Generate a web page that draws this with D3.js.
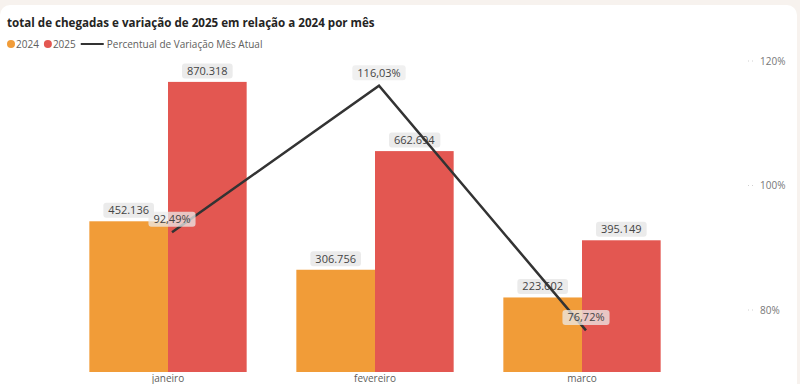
<!DOCTYPE html>
<html>
<head>
<meta charset="utf-8">
<script src="https://cdn.jsdelivr.net/npm/d3@7"></script>
<style>
  body { margin: 0; background: #f7f2ee; }
  svg { display: block; }
  text { font-family: "Segoe UI", "Open Sans", sans-serif; }
</style>
</head>
<body>
<svg></svg>
<script>
let width = 800, height = 384;

// data
let months = ["janeiro", "fevereiro", "marco"];
let years = ["2024", "2025"];
let arrivals2024 = [452136, 306756, 223602];
let arrivals2025 = [870318, 662694, 395149];
let variation = [0.9249, 1.1603, 0.7672];
let pctTicks = [0.8, 1.0, 1.2];

let colors = { "2024": "#f19c38", "2025": "#e35751" };

let ptBR = d3.formatLocale({ decimal: ",", thousands: ".", grouping: [3], currency: ["R$", ""] });
let fmtNum = ptBR.format(",d");
let fmtPct = ptBR.format(".2%");
let fmtTick = ptBR.format(".0%");

let svg = d3.select("svg")
    .attr("width", width)
    .attr("height", height);

// card
svg.append("rect")
    .attr("x", 0).attr("y", 5)
    .attr("width", 797).attr("height", 400)
    .attr("rx", 10)
    .attr("fill", "#ffffff");

// scales
let x0 = d3.scaleBand()
    .domain(months)
    .range([64.5, 685.5])
    .paddingInner(0.24)
    .paddingOuter(0.12);

let x1 = d3.scaleBand()
    .domain(years)
    .range([0, x0.bandwidth()]);

let y = d3.scaleLinear()
    .domain([0, 900000])
    .range([372, 72]);

let yPct = d3.scaleLinear()
    .domain([0.8, 1.2])
    .range([310, 61]);

let rows = months.map((m, i) => ({
    month: m,
    values: [
        { year: "2024", value: arrivals2024[i] },
        { year: "2025", value: arrivals2025[i] }
    ],
    pct: variation[i]
}));

// right axis
let axisR = svg.append("g");
axisR.selectAll("line")
    .data(pctTicks)
    .enter()
    .append("line")
    .attr("x1", 748).attr("x2", 755)
    .attr("y1", d => yPct(d)).attr("y2", d => yPct(d))
    .attr("stroke", "#d0d0d0")
    .attr("stroke-dasharray", "1,3");
axisR.selectAll("text")
    .data(pctTicks)
    .enter()
    .append("text")
    .attr("x", 760)
    .attr("y", d => yPct(d))
    .attr("dy", "0.35em")
    .attr("font-size", "10px")
    .attr("fill", "#777")
    .text(d => fmtTick(d));

// bars
let groups = svg.append("g")
    .selectAll("g")
    .data(rows)
    .enter()
    .append("g")
    .attr("transform", d => "translate(" + x0(d.month) + ",0)");

groups.selectAll("rect")
    .data(d => d.values)
    .enter()
    .append("rect")
    .attr("x", d => x1(d.year))
    .attr("y", d => y(d.value))
    .attr("width", x1.bandwidth())
    .attr("height", d => y(0) - y(d.value))
    .attr("fill", d => colors[d.year]);

// category labels
svg.append("g")
    .selectAll("text")
    .data(months)
    .enter()
    .append("text")
    .attr("x", d => x0(d) + x0.bandwidth() / 2)
    .attr("y", 382)
    .attr("text-anchor", "middle")
    .attr("font-size", "10px")
    .attr("fill", "#605e5c")
    .text(d => d);

// label helper
function boxLabel(g, cx, cy, txt, bg) {
    let t = g.append("text")
        .attr("x", cx).attr("y", cy)
        .attr("dy", "0.35em")
        .attr("text-anchor", "middle")
        .attr("font-size", "11px")
        .attr("fill", "#444")
        .text(txt);
    let bb = t.node().getBBox();
    g.insert("rect", () => t.node())
        .attr("x", bb.x - 5).attr("y", cy - 7.5)
        .attr("width", bb.width + 10).attr("height", 15)
        .attr("rx", 3)
        .attr("fill", bg);
}

// bar labels
let barLabels = svg.append("g");
rows.forEach(r => {
    r.values.forEach(v => {
        let cx = x0(r.month) + x1(v.year) + x1.bandwidth() / 2;
        boxLabel(barLabels, cx, y(v.value) - 11, fmtNum(v.value), "rgba(232,232,232,0.85)");
    });
});

// line
let line = d3.line()
    .x(d => x0(d.month) + x0.bandwidth() / 2 + 4)
    .y(d => yPct(d.pct));

svg.append("path")
    .datum(rows)
    .attr("d", line)
    .attr("fill", "none")
    .attr("stroke", "#333333")
    .attr("stroke-width", 2.5);

// line labels
let pctLabels = svg.append("g");
rows.forEach(r => {
    boxLabel(pctLabels, x0(r.month) + x0.bandwidth() / 2 + 4, yPct(r.pct) - 13,
        fmtPct(r.pct), "rgba(235,235,235,0.75)");
});

// title
svg.append("text")
    .attr("x", 7).attr("y", 27)
    .attr("font-family", "'Open Sans', sans-serif")
    .attr("font-size", "11.6px")
    .attr("font-weight", 700)
    .attr("fill", "#252423")
    .text("total de chegadas e variação de 2025 em relação a 2024 por mês");

// legend
let legend = svg.append("g").attr("transform", "translate(0,44)");
let lx = 7;
years.forEach(yr => {
    legend.append("circle")
        .attr("cx", lx + 4).attr("cy", 0).attr("r", 4)
        .attr("fill", colors[yr]);
    let t = legend.append("text")
        .attr("x", lx + 9).attr("y", 0).attr("dy", "0.35em")
        .attr("font-size", "10px")
        .attr("fill", "#605e5c")
        .text(yr);
    lx += 9 + t.node().getComputedTextLength() + 5;
});
legend.append("line")
    .attr("x1", lx).attr("x2", lx + 23)
    .attr("y1", 0).attr("y2", 0)
    .attr("stroke", "#333").attr("stroke-width", 2);
legend.append("text")
    .attr("x", lx + 26).attr("y", 0).attr("dy", "0.35em")
    .attr("font-size", "10px")
    .attr("fill", "#605e5c")
    .text("Percentual de Variação Mês Atual");
</script>
</body>
</html>
